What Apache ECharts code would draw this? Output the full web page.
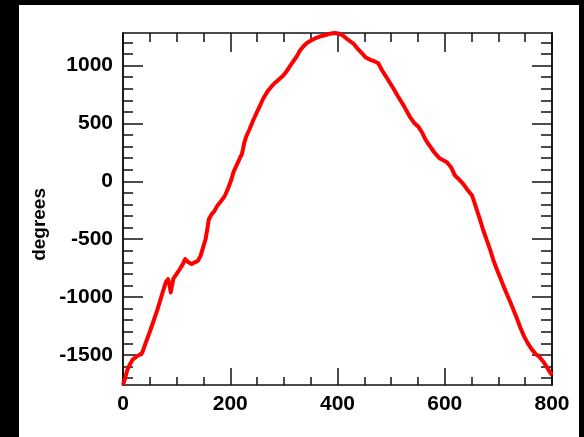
<!DOCTYPE html>
<html>
<head>
<meta charset="utf-8">
<script src="https://cdn.jsdelivr.net/npm/echarts@6/dist/echarts.min.js"></script>
<style>
  html, body { margin: 0; padding: 0; background: #000; width: 584px; height: 437px; overflow: hidden; }
  #chart { position: absolute; left: 19px; top: 5px; width: 560px; height: 432px; background: #fff; }
</style>
</head>
<body>
<div id="chart"></div>
<script>
// Sample index (x) and angle in degrees (y)
const sampleX = [0, 4, 8, 12, 18, 25, 32, 36, 42, 50, 57, 64, 70, 76, 80, 84, 87, 89, 92, 94,
  100, 106, 111, 116, 122, 128, 134, 140, 145, 150, 154, 157, 160, 165, 170, 176, 183, 190, 196, 201,
  206, 212, 218, 222, 226, 230, 236, 243, 250, 256, 262, 270, 277, 283, 290, 298, 305, 312, 318, 324,
  330, 337, 343, 350, 358, 368, 378, 386, 394, 402, 410, 418, 425, 430, 437, 445, 453, 461, 468, 476,
  483, 490, 498, 506, 512, 517, 524, 530, 535, 543, 551, 558, 563, 567, 573, 579, 585, 591, 598, 604,
  612, 619, 626, 634, 642, 651, 658, 665, 672, 680, 686, 691, 698, 705, 710, 716, 722, 729, 735, 741,
  748, 755, 762, 769, 775, 778, 785, 791, 797, 800];
const degreesY = [-1760, -1700, -1630, -1590, -1540, -1515, -1495, -1480, -1400, -1300, -1207, -1110, -1020, -930, -870, -845, -900, -960, -945, -840,
  -800, -758, -720, -672, -700, -715, -700, -686, -640, -560, -500, -420, -330, -285, -260, -210, -170, -125, -60, 0,
  80, 140, 200, 240, 330, 390, 450, 530, 600, 660, 720, 780, 820, 850, 877, 910, 950, 1000, 1040, 1080,
  1130, 1170, 1195, 1215, 1235, 1253, 1265, 1276, 1282, 1278, 1260, 1230, 1205, 1190, 1150, 1110, 1070, 1050, 1040, 1020,
  960, 910, 850, 790, 740, 703, 650, 600, 558, 505, 471, 420, 370, 340, 300, 260, 226, 197, 180, 165,
  120, 50, 20, -20, -70, -122, -220, -320, -425, -530, -610, -686, -770, -850, -910, -975, -1040, -1120, -1190, -1265,
  -1340, -1400, -1450, -1490, -1510, -1525, -1565, -1610, -1655, -1675];

// Tick values
const yMajorTicks = [-1500, -1000, -500, 0, 500, 1000];
const yMinorTicks = [-1700, -1600, -1400, -1300, -1200, -1100, -900, -800, -700, -600, -400, -300, -200, -100,
  100, 200, 300, 400, 600, 700, 800, 900, 1100, 1200];

const Y_MIN = -1760, Y_MAX = 1282;
const FONT = '"Liberation Sans", Arial, Helvetica, sans-serif';
const lineSty = { color: '#111', width: 1.5 };
const plain = v => String(v);

// Left/right frame axes: one carries the labelled major ticks, a twin carries the minor ticks
function yAxisDef(position, values, len, showLabels) {
  return {
    type: 'value', position: position, min: Y_MIN, max: Y_MAX,
    axisLine: { show: true, onZero: false, lineStyle: lineSty },
    axisTick: { show: true, inside: true, length: len, customValues: values, lineStyle: lineSty },
    axisLabel: showLabels
      ? { show: true, customValues: values, formatter: plain, color: '#000', fontSize: 21, fontWeight: 'bold', fontFamily: FONT, margin: 10 }
      : { show: false },
    splitLine: { show: false }
  };
}

// Bottom/top frame axes with minor ticks every 50
function xAxisDef(position, majorLen, minorLen, showLabels) {
  return {
    type: 'value', position: position, min: 0, max: 800, interval: 200,
    axisLine: { show: true, onZero: false, lineStyle: lineSty },
    axisTick: { show: true, inside: true, length: majorLen, lineStyle: lineSty },
    minorTick: { show: true, splitNumber: 4, length: minorLen, lineStyle: lineSty },
    axisLabel: showLabels
      ? { show: true, formatter: plain, color: '#000', fontSize: 21, fontWeight: 'bold', fontFamily: FONT, margin: 9 }
      : { show: false },
    splitLine: { show: false },
    minorSplitLine: { show: false }
  };
}

const chart = echarts.init(document.getElementById('chart'), null, { renderer: 'canvas' });
chart.setOption({
  animation: false,
  backgroundColor: '#fff',
  grid: { left: 104, right: 27, top: 28, bottom: 52 },
  xAxis: [
    xAxisDef('bottom', 17, 8, true),
    xAxisDef('top', 19, 9, false)
  ],
  yAxis: [
    yAxisDef('left', yMajorTicks, 20, true),
    yAxisDef('left', yMinorTicks, 10, false),
    yAxisDef('right', yMajorTicks, 20, false),
    yAxisDef('right', yMinorTicks, 11, false)
  ],
  graphic: [{
    type: 'text',
    left: 11, top: 183,
    rotation: Math.PI / 2,
    style: { text: 'degrees', fill: '#000', font: 'bold 19px ' + FONT }
  }],
  series: [{
    type: 'line',
    xAxisIndex: 0, yAxisIndex: 0,
    data: sampleX.map((x, i) => [x, degreesY[i]]),
    showSymbol: false,
    clip: true,
    lineStyle: { color: '#f00', width: 4, join: 'round' }
  }]
});
</script>
</body>
</html>
